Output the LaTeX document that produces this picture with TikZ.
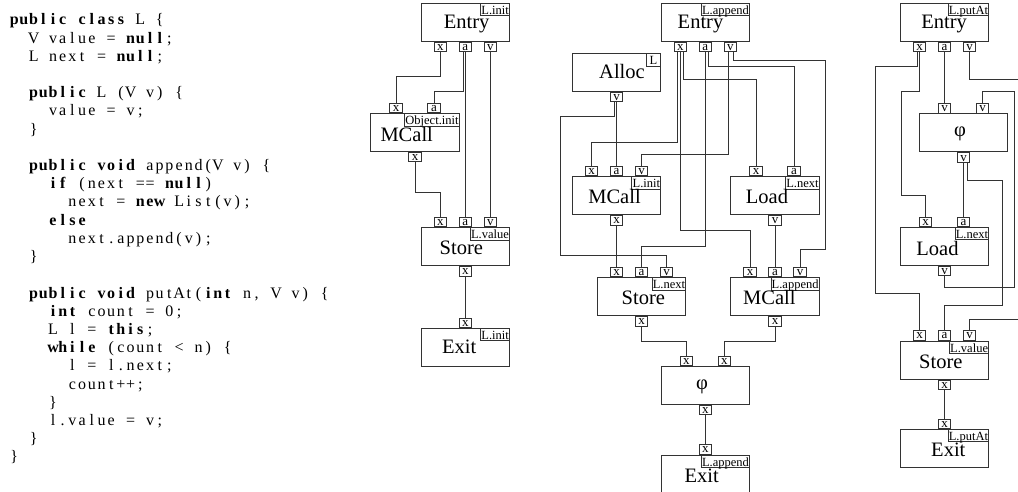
\documentclass[tikz,border=0pt]{standalone}
\usepackage{tikz}
\usepackage{fontspec}
\setmainfont{Liberation Serif}
\ExplSyntaxOn
\dim_new:N \g_cdw_dim
\dim_gset:Nn \g_cdw_dim {9.7pt}
\cs_new_protected:Npn \cdc #1
 { \tl_map_inline:nn {#1} { \hbox_to_wd:nn { \g_cdw_dim } { \hss ##1 \hss } } }
\ExplSyntaxOff
\newcommand\cdk[1]{{\bfseries\cdc{#1}}}
\colorlet{lc}{black!80}
\begin{document}
\begin{tikzpicture}[x=1pt,y=-1pt,
  box/.style={draw=lc,line width=1pt,minimum width=88.5pt,minimum height=38pt,inner sep=0pt},
  port/.style={draw=lc,fill=white,line width=0.8pt,minimum width=12.7pt,minimum height=9.3pt,inner sep=0pt,font=\fontsize{13}{13}\selectfont,text height=7pt,text depth=0pt},
  tport/.style={port,anchor=south},
  bport/.style={port,anchor=north},
  lbl/.style={draw=lc,fill=white,line width=0.8pt,inner xsep=0.8pt,inner ysep=0pt,minimum height=12.6pt,font=\fontsize{12.5}{12.5}\selectfont,text height=10pt,text depth=0pt,anchor=north east},
  big/.style={font=\fontsize{20.5}{20.5}\selectfont,anchor=base,inner sep=0pt},
  phitext/.style={font=\fontsize{20.5}{20.5}\selectfont,anchor=center,inner sep=0pt},
  wire/.style={draw=lc,line width=0.8pt},
  codeline/.style={anchor=base west,inner sep=0pt,font=\fontsize{16}{16}\selectfont}]
\fill[white] (0,0) rectangle (1018,492);
\useasboundingbox (0,0) rectangle (1018,492);

% ---------------- code listing ----------------
\node[codeline] (c1)  at (9.2,25)    {\cdk{public}\cdc{~}\cdk{class}\cdc{~L~\{}};
\node[codeline] (c2)  at (28.6,43.2) {\cdc{V~value~=~}\cdk{null}\cdc{;}};
\node[codeline] (c3)  at (28.6,61.4) {\cdc{L~next~=~}\cdk{null}\cdc{;}};
\node[codeline] (c5)  at (28.6,97.8) {\cdk{public}\cdc{~L~(V~v)~\{}};
\node[codeline] (c6)  at (48,116)    {\cdc{value~=~v;}};
\node[codeline] (c7)  at (28.6,134.2) {\cdc{\}}};
\node[codeline] (c9)  at (28.6,170.6) {\cdk{public}\cdc{~}\cdk{void}\cdc{~append(V~v)~\{}};
\node[codeline] (c10) at (48,188.8)  {\cdk{if}\cdc{~(next~==~}\cdk{null}\cdc{)}};
\node[codeline] (c11) at (67.4,207)  {\cdc{next~=~}\cdk{new}\cdc{~List(v);}};
\node[codeline] (c12) at (48,225.2)  {\cdk{else}};
\node[codeline] (c13) at (67.4,243.4) {\cdc{next.append(v);}};
\node[codeline] (c14) at (28.6,261.6) {\cdc{\}}};
\node[codeline] (c16) at (28.6,298)  {\cdk{public}\cdc{~}\cdk{void}\cdc{~putAt(}\cdk{int}\cdc{~n,~V~v)~\{}};
\node[codeline] (c17) at (48,316.2)  {\cdk{int}\cdc{~count~=~0;}};
\node[codeline] (c18) at (48,334.4)  {\cdc{L~l~=~}\cdk{this}\cdc{;}};
\node[codeline] (c19) at (48,352.6)  {\cdk{while}\cdc{~(count~<~n)~\{}};
\node[codeline] (c20) at (67.4,370.8) {\cdc{l~=~l.next;}};
\node[codeline] (c21) at (67.4,389)  {\cdc{count++;}};
\node[codeline] (c22) at (48,407.2)  {\cdc{\}}};
\node[codeline] (c23) at (48,425.4)  {\cdc{l.value~=~v;}};
\node[codeline] (c24) at (28.6,443.6) {\cdc{\}}};
\node[codeline] (c25) at (9.2,461.8) {\cdc{\}}};

% ---------------- graph 1: L.init ----------------
\node[box] (e1) at (465.3,22.3) {};
\node[lbl] (e1l) at (e1.north east) {L.init};
\node[big] (e1t) at (466.7,28.5) {Entry};
\node[bport] (e1x) at ([xshift=-25pt]e1.south) {x};
\node[bport] (e1a) at (e1.south) {a};
\node[bport] (e1v) at ([xshift=25pt]e1.south) {v};

\node[box] (m1) at (415,132.7) {};
\node[lbl] (m1l) at (m1.north east) {Object.init};
\node[big] (m1t) at (406.7,141.7) {MCall};
\node[tport] (m1x) at ([xshift=-19pt]m1.north) {x};
\node[tport] (m1a) at ([xshift=19pt]m1.north) {a};
\node[bport] (m1o) at (m1.south) {x};

\node[box] (s1) at (465.3,246.7) {};
\node[lbl] (s1l) at (s1.north east) {L.value};
\node[big] (s1t) at (461.3,254.7) {Store};
\node[tport] (s1x) at ([xshift=-25pt]s1.north) {x};
\node[tport] (s1a) at (s1.north) {a};
\node[tport] (s1v) at ([xshift=25pt]s1.north) {v};
\node[bport] (s1o) at (s1.south) {x};

\node[box] (x1) at (465.3,347.3) {};
\node[lbl] (x1l) at (x1.north east) {L.init};
\node[big] (x1t) at (459.2,353.3) {Exit};
\node[tport] (x1x) at (x1.north) {x};

\draw[wire] (e1x.south) |- (m1x.north |- 0,76) -- (m1x.north);
\draw[wire] ([xshift=-2pt]e1a.south) |- (m1a.north |- 0,91.7) -- (m1a.north);
\draw[wire] (e1a.south) -- (s1a.north);
\draw[wire] (e1v.south) -- (s1v.north);
\draw[wire] (m1o.south) |- (s1x.north |- 0,192) -- (s1x.north);
\draw[wire] (s1o.south) -- (x1x.north);

% ---------------- graph 2: L.append ----------------
\node[box] (e2) at (705.3,22.3) {};
\node[lbl] (e2l) at (e2.north east) {L.append};
\node[big] (e2t) at (700.5,28.5) {Entry};
\node[bport] (e2x) at ([xshift=-25pt]e2.south) {x};
\node[bport] (e2a) at (e2.south) {a};
\node[bport] (e2v) at ([xshift=25pt]e2.south) {v};

\node[box] (a2) at (616.5,72.7) {};
\node[lbl,minimum width=14.6pt] (a2l) at (a2.north east) {L};
\node[big] (a2t) at (622,78.3) {Alloc};
\node[bport] (a2o) at (a2.south) {v};

\node[box] (mi2) at (616.5,195.7) {};
\node[lbl] (mi2l) at (mi2.north east) {L.init};
\node[big] (mi2t) at (614.5,204) {MCall};
\node[tport] (mi2x) at ([xshift=-25pt]mi2.north) {x};
\node[tport] (mi2a) at (mi2.north) {a};
\node[tport] (mi2v) at ([xshift=25pt]mi2.north) {v};
\node[bport] (mi2o) at (mi2.south) {x};

\node[box] (l2) at (775,195.7) {};
\node[lbl] (l2l) at (l2.north east) {L.next};
\node[big] (l2t) at (767,204) {Load};
\node[tport] (l2x) at ([xshift=-19pt]l2.north) {x};
\node[tport] (l2a) at ([xshift=19pt]l2.north) {a};
\node[bport] (l2o) at (l2.south) {v};

\node[box] (s2) at (641.5,296.7) {};
\node[lbl] (s2l) at (s2.north east) {L.next};
\node[big] (s2t) at (643.3,304) {Store};
\node[tport] (s2x) at ([xshift=-25pt]s2.north) {x};
\node[tport] (s2a) at (s2.north) {a};
\node[tport] (s2v) at ([xshift=25pt]s2.north) {v};
\node[bport] (s2o) at (s2.south) {x};

\node[box] (ma2) at (775,296.7) {};
\node[lbl] (ma2l) at (ma2.north east) {L.append};
\node[big] (ma2t) at (769.3,304) {MCall};
\node[tport] (ma2x) at ([xshift=-25pt]ma2.north) {x};
\node[tport] (ma2a) at (ma2.north) {a};
\node[tport] (ma2v) at ([xshift=25pt]ma2.north) {v};
\node[bport] (ma2o) at (ma2.south) {x};

\node[box] (p2) at (705.3,385.3) {};
\node[phitext] (p2t) at (702,386.5) {φ};
\node[tport] (p2a) at ([xshift=-19pt]p2.north) {x};
\node[tport] (p2b) at ([xshift=19pt]p2.north) {x};
\node[bport] (p2o) at (p2.south) {x};

\node[box] (x2) at (705.3,474) {};
\node[lbl] (x2l) at (x2.north east) {L.append};
\node[big] (x2t) at (701.7,482.7) {Exit};
\node[tport] (x2x) at (x2.north) {x};

\draw[wire] ([xshift=-3pt]e2x.south) |- (mi2x.north |- 0,142.3) -- (mi2x.north);
\draw[wire] (e2x.south) |- (ma2x.north |- 0,230) -- (ma2x.north);
\draw[wire] ([xshift=3pt]e2x.south) |- (l2x.north |- 0,79) -- (l2x.north);
\draw[wire] ([xshift=-0.3pt]e2a.south) |- (s2a.north |- 0,246) -- (s2a.north);
\draw[wire] ([xshift=3.4pt]e2a.south) |- (l2a.north |- 0,66) -- (l2a.north);
\draw[wire] ([xshift=-2.3pt]e2v.south) |- (mi2v.north |- 0,154.3) -- (mi2v.north);
\draw[wire] ([xshift=2.7pt]e2v.south) |- (825.7,60) |- (ma2v.north |- 0,249.3) -- (ma2v.north);
\draw[wire] ([xshift=-2.5pt]a2o.south) |- (560,116.7) |- (s2v.north |- 0,255) -- (s2v.north);
\draw[wire] (a2o.south) -- (mi2a.north);
\draw[wire] (mi2o.south) -- (s2x.north);
\draw[wire] (l2o.south) -- (ma2a.north);
\draw[wire] (s2o.south) |- (p2a.north |- 0,341) -- (p2a.north);
\draw[wire] (ma2o.south) |- (p2b.north |- 0,341) -- (p2b.north);
\draw[wire] (p2o.south) -- (x2x.north);

% ---------------- graph 3: L.putAt ----------------
\node[box] (e3) at (944.5,22.3) {};
\node[lbl] (e3l) at (e3.north east) {L.putAt};
\node[big] (e3t) at (944.2,28.5) {Entry};
\node[bport] (e3x) at ([xshift=-25pt]e3.south) {x};
\node[bport] (e3a) at (e3.south) {a};
\node[bport] (e3v) at ([xshift=25pt]e3.south) {v};

\node[box] (p3) at (963.5,133) {};
\node[phitext] (p3t) at (960,134.2) {φ};
\node[tport] (p3a) at ([xshift=-19pt]p3.north) {v};
\node[tport] (p3b) at ([xshift=19pt]p3.north) {v};
\node[bport] (p3o) at (p3.south) {v};

\node[box] (l3) at (944.5,246.3) {};
\node[lbl] (l3l) at (l3.north east) {L.next};
\node[big] (l3t) at (937.5,255) {Load};
\node[tport] (l3x) at ([xshift=-19pt]l3.north) {x};
\node[tport] (l3a) at ([xshift=19pt]l3.north) {a};
\node[bport] (l3o) at (l3.south) {v};

\node[box] (s3) at (944.5,360) {};
\node[lbl] (s3l) at (s3.north east) {L.value};
\node[big] (s3t) at (940.8,368.3) {Store};
\node[tport] (s3x) at ([xshift=-25pt]s3.north) {x};
\node[tport] (s3a) at (s3.north) {a};
\node[tport] (s3v) at ([xshift=25pt]s3.north) {v};
\node[bport] (s3o) at (s3.south) {x};

\node[box] (x3) at (944.5,448.3) {};
\node[lbl] (x3l) at (x3.north east) {L.putAt};
\node[big] (x3t) at (948.3,456.7) {Exit};
\node[tport] (x3x) at (x3.north) {x};

\draw[wire] ([xshift=-2.3pt]e3x.south) |- (875.7,66) |- (s3x.north |- 0,293.3) -- (s3x.north);
\draw[wire] (e3x.south) |- (901,91) |- (l3x.north |- 0,195) -- (l3x.north);
\draw[wire] (e3a.south) -- (p3a.north);
\draw[wire] (e3v.south) |- (1022,79) |- (s3v.north |- 0,319) -- (s3v.north);
\draw[wire] (l3o.south) |- (1014.3,287.7) |- (p3b.north |- 0,91) -- (p3b.north);
\draw[wire] (p3o.south) -- (l3a.north);
\draw[wire] ([xshift=3.5pt]p3o.south) |- (1002.3,180) |- (s3a.north |- 0,305.7) -- (s3a.north);
\draw[wire] (s3o.south) -- (x3x.north);
\end{tikzpicture}
\end{document}
